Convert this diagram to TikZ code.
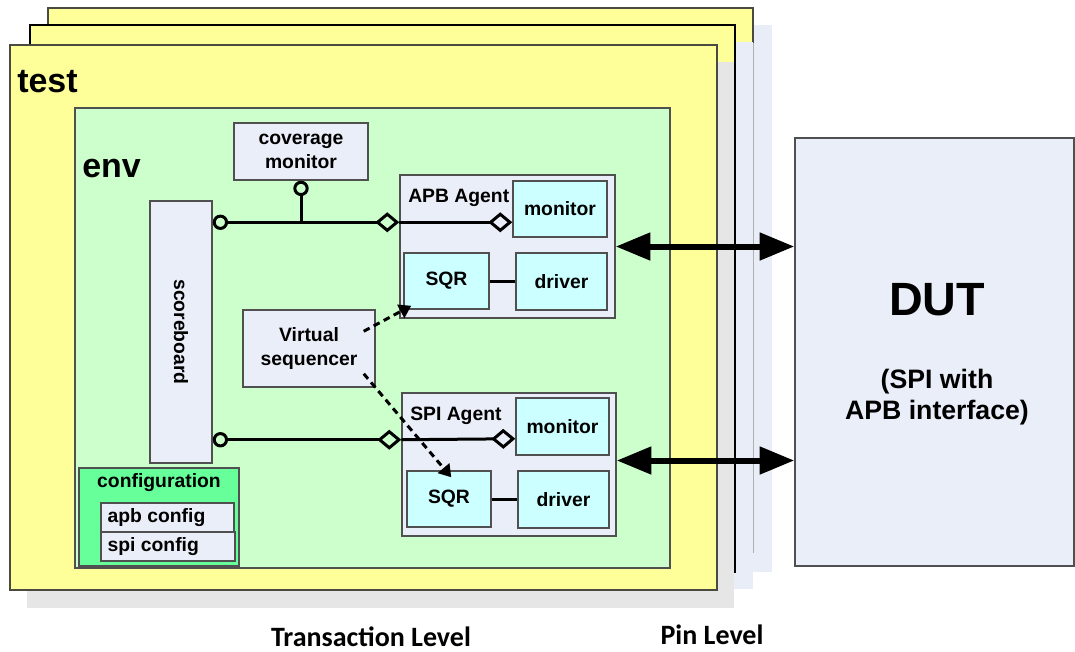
\documentclass[tikz,border=0pt]{standalone}
\usepackage{fontspec}
\setmainfont{Liberation Sans}
\newfontfamily\calibfont{Carlito}
\usetikzlibrary{arrows.meta,fit,calc}
\definecolor{pageY}{HTML}{FFFF99}
\definecolor{lblue}{HTML}{E9EDF7}
\definecolor{gshadow}{HTML}{E6E6E6}
\definecolor{envG}{HTML}{CCFFCC}
\definecolor{lav}{HTML}{EAEEF8}
\definecolor{cyanB}{HTML}{CCFFFF}
\definecolor{cfgG}{HTML}{66FF99}
\definecolor{bordc}{HTML}{505050}
\definecolor{pbord}{HTML}{4A4A40}
\definecolor{faint}{HTML}{B0B0B0}
\tikzset{
  lolli/.tip={Circle[open,length=11.5pt,width=11.5pt]},
  diam/.tip={Diamond[open,length=18pt,width=15pt]}
}
\begin{document}
\begin{tikzpicture}[x=0.75pt,y=-0.75pt,
  sfont/.style={font=\bfseries\fontsize{14.5}{17.5}\selectfont},
  box/.style={draw=bordc, line width=1.1pt, inner sep=0pt, fill=lav, sfont, align=center},
  cbox/.style={box, fill=cyanB},
  page/.style={draw=pbord, line width=1.1pt, fill=pageY, inner sep=0pt},
  lbl/.style={inner sep=0pt, sfont},
  conn/.style={line width=2.25pt, black},
  bigarrow/.style={line width=4.5pt, {Triangle[length=26pt,width=20pt]}-{Triangle[length=26pt,width=20pt]}},
  vlink/.style={line width=2.25pt, dash pattern=on 5pt off 3.5pt, -{Triangle[length=9pt,width=11pt]}}
]
\useasboundingbox (0,0) rectangle (1075,651);
% stacked test pages
\fill[lblue] (65,25) rectangle (772,572);
\fill[pageY] (48,8) rectangle (753,553);
\draw[faint, line width=1pt] (753,43) -- (753,553);
\draw[pbord, line width=1.1pt] (753,43) |- (48,8) -- (48,43);
\fill[lblue] (47,42) rectangle (752.6,589);
\filldraw[fill=pageY, draw=black, line width=1.1pt] (30,25) rectangle (735,572);
\fill[gshadow] (27,62) rectangle (734.4,608);
\node[page, fit={(10,45) (717,590)}] (test) {};
\node[anchor=base west, inner sep=0pt, font=\bfseries\fontsize{25.5}{30}\selectfont] (testlbl) at (17,92) {test};
% env
\node[draw=bordc, line width=1.1pt, fill=envG, inner sep=0pt, fit={(75,108) (670,568)}] (env) {};
\node[anchor=base west, inner sep=0pt, font=\bfseries\fontsize{25.5}{30}\selectfont] (envlbl) at (82,177) {env};
% components
\node[box, fit={(234,123) (368,180)}] (cov) {};
\node[lbl, align=center] at (cov.center) {coverage\\monitor};
\node[box, fit={(150,201) (212,463)}] (sb) {};
\node[lbl, rotate=-90] at (sb.center) {scoreboard};
\node[box, fit={(243,310) (375,387)}] (vs) {};
\node[lbl, align=center, font=\bfseries\fontsize{14.5}{18.5}\selectfont] at (vs.center) {Virtual\\sequencer};
% APB agent
\node[box, fit={(400,175) (615,318)}] (apb) {};
\node[lbl, anchor=base west] at (408,202) {APB Agent};
\node[cbox, fit={(513,181) (607,237)}] (apbmon) {};
\node[lbl] at (apbmon.center) {monitor};
\node[cbox, fit={(404,253) (489,309)}] (apbsqr) {};
\node[lbl] at (apbsqr.center) {SQR};
\node[cbox, fit={(516,253) (607,310)}] (apbdrv) {};
\node[lbl] at (apbdrv.center) {driver};
% SPI agent
\node[box, fit={(402,393) (616,536)}] (spi) {};
\node[lbl, anchor=base west] at (410,420) {SPI Agent};
\node[cbox, fit={(516,398) (609,455)}] (spimon) {};
\node[lbl] at (spimon.center) {monitor};
\node[cbox, fit={(407,471) (491,527)}] (spisqr) {};
\node[lbl] at (spisqr.center) {SQR};
\node[cbox, fit={(518,471) (609,528)}] (spidrv) {};
\node[lbl] at (spidrv.center) {driver};
% configuration
\node[draw=bordc, line width=1.1pt, fill=cfgG, inner sep=0pt, fit={(79,468) (239,566)}] (cfg) {};
\node[lbl, anchor=base] at (159,487) {configuration};
\node[box, fit={(101,503) (234,532)}] (apbc) {};
\node[lbl, anchor=west] at ([xshift=5.3pt]apbc.west) {apb config};
\node[box, fit={(101,532) (235,561)}] (spic) {};
\node[lbl, anchor=west] at ([xshift=5.3pt]spic.west) {spi config};
% DUT
\node[draw=bordc, line width=1.1pt, fill=lav, inner sep=0pt, fit={(795,138) (1074,566)}] (dut) {};
\node[inner sep=0pt, font=\bfseries\fontsize{35}{40}\selectfont] at (937,300) {DUT};
\node[inner sep=0pt, align=center, font=\bfseries\fontsize{20}{23.5}\selectfont] at (937,397) {(SPI with\\APB interface)};
% connectors
\path (sb.north east) ++(0,22) coordinate (sbT);
\path (sb.south east) ++(0,-24) coordinate (sbB);
\draw[conn, {lolli}-{diam}] (sbT) -- (sbT -| apb.west);
\draw[conn, -{diam}] (sbT -| apb.west) -- (sbT -| apbmon.west);
\draw[conn, -{lolli}] (cov.south |- sbT) -- (cov.south);
\draw[conn, {lolli}-{diam}] (sbB) -- (sbB -| spi.west);
\draw[conn, -{diam}] (sbB -| spi.west) -- ([yshift=0.75pt]sbB -| spimon.west);
\draw[conn] (apbsqr.east |- apbdrv.west) -- (apbdrv.west);
\draw[conn] (spisqr.east |- spidrv.west) -- (spidrv.west);
\draw[vlink] ($(vs.north east)+(-12,22)$) -- ($(apbsqr.south west)+(8,-4)$);
\draw[vlink] ($(vs.south east)+(-12,-14)$) -- ($(spisqr.north west)+(45,7)$);
\draw[bigarrow] (apb.east) -- (apb.east -| dut.west);
\draw[bigarrow] ([yshift=3pt]spi.east) -- ([yshift=3pt]spi.east -| dut.west);
% level labels
\node[anchor=base, inner sep=0pt, font=\calibfont\bfseries\fontsize{21}{25}\selectfont] (tl) at (371,646) {Transaction Level};
\node[anchor=base, inner sep=0pt, font=\calibfont\bfseries\fontsize{21}{25}\selectfont] (pl) at (712,644) {Pin Level};
\end{tikzpicture}
\end{document}
